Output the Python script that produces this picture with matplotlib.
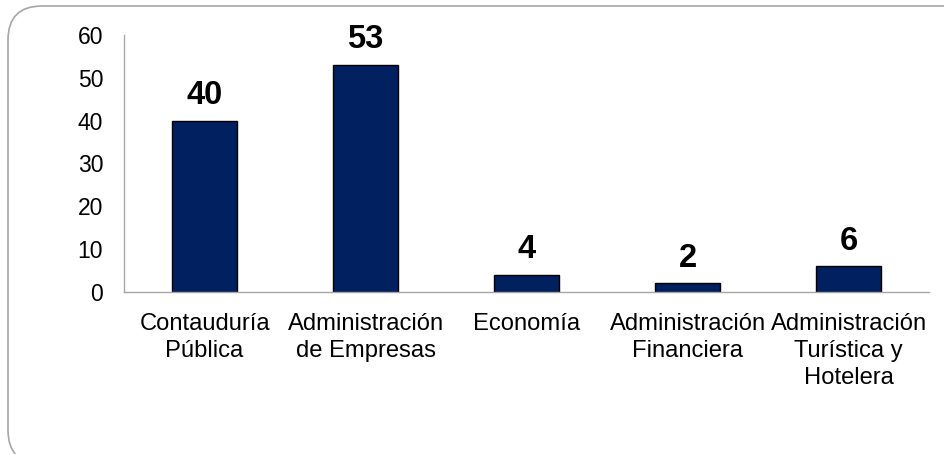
import matplotlib
matplotlib.use('Agg')
from matplotlib import pyplot as plt
from matplotlib.patches import FancyBboxPatch

# datos
carreras = ['Contauduría\nPública', 'Administración\nde Empresas', 'Economía',
            'Administración\nFinanciera', 'Administración\nTurística y\nHotelera']
valores = [40, 53, 4, 2, 6]

plt.rcParams['font.family'] = ['Liberation Sans', 'DejaVu Sans']

fig = plt.figure(figsize=(9.44, 4.54), dpi=100)
ax = fig.add_axes([0.1314, 0.357, 0.853, 0.566])

# marco redondeado (en pixeles, se sale por la derecha y abajo)
marco = FancyBboxPatch((8, -10), 990, 458,
                       boxstyle='round,pad=0,rounding_size=34',
                       transform=None, facecolor='none',
                       edgecolor='#a6a6a6', linewidth=1.2)
fig.patches.append(marco)

x = range(len(valores))
barras = ax.bar(x, valores, width=0.405, color='#002060', edgecolor='black', linewidth=1.0)

for b, v in zip(barras, valores):
    ax.annotate(str(v), (b.get_x() + b.get_width() / 2, v), xytext=(0, 7),
                textcoords='offset points', ha='center', va='bottom',
                fontsize=23.5, fontweight='bold')

ax.set_xlim(-0.5, len(valores) - 0.5)
ax.set_ylim(0, 60)
ax.set_yticks(range(0, 61, 10))
ax.set_xticks(list(x))
ax.set_xticklabels(carreras, fontsize=17.1, linespacing=1.31)
ax.tick_params(axis='y', labelsize=16.5, length=0, pad=15)
ax.tick_params(axis='x', length=0, pad=15)

for s in ['top', 'right']:
    ax.spines[s].set_visible(False)
for s in ['left', 'bottom']:
    ax.spines[s].set_color('#a6a6a6')
    ax.spines[s].set_linewidth(1.0)

plt.savefig('out.png', dpi=100)
plt.close()
